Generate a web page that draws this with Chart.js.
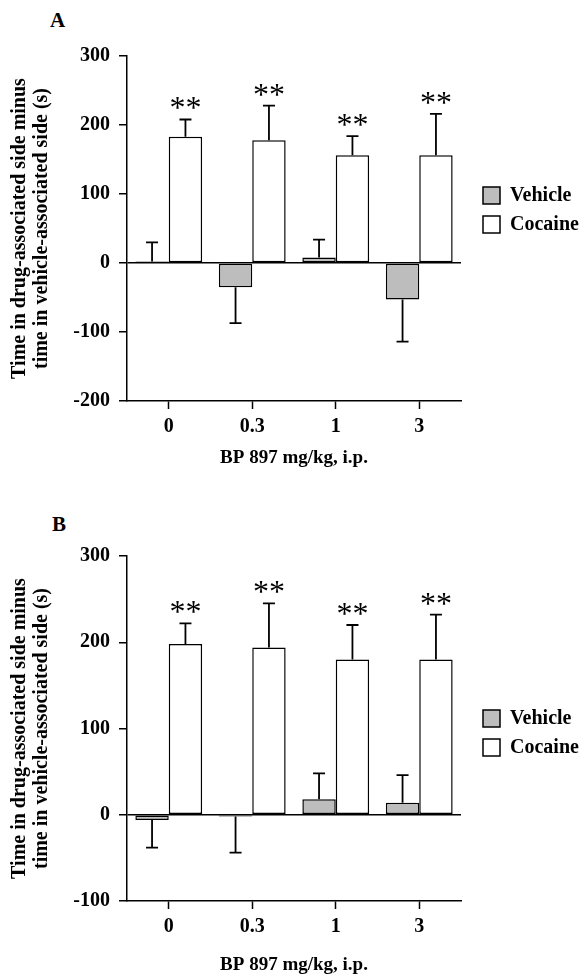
<!DOCTYPE html>
<html>
<head>
  <meta charset="UTF-8">
  <title>BP 897 place preference</title>
  <script src="https://cdn.jsdelivr.net/npm/chart.js"></script>
  <style>
    body { margin: 0; background: #fff; }
    #wrap { position: relative; width: 581px; height: 977px; }
    canvas { position: absolute; left: 0; }
    .panel { position: absolute; font: bold 21px "Liberation Serif", serif; color: #000; }
  </style>
</head>
<body>
<div id="wrap">
  <div class="panel" style="left:50px;top:8px">A</div>
  <canvas id="chartA" width="581" height="477" style="top:0px"></canvas>
  <div class="panel" style="left:52px;top:512px">B</div>
  <canvas id="chartB" width="581" height="477" style="top:500px"></canvas>
</div>

<script>
  // doses of BP 897 (mg/kg, i.p.)
  const doses = ['0', '0.3', '1', '3'];

  // panel A
  const vehicleA = [2, -35, 8, -53];
  const vehicleA_sem = [28, 52, 26, 61];
  const cocaineA = [183, 178, 156, 156];
  const cocaineA_sem = [25, 50, 28, 60];
  const starsA = ['**', '**', '**', '**'];

  // panel B
  const vehicleB = [-6, -2, 18, 14];
  const vehicleB_sem = [32, 42, 30, 32];
  const cocaineB = [198, 194, 180, 180];
  const cocaineB_sem = [24, 51, 40, 52];
  const starsB = ['**', '**', '**', '**'];

  const yTitle = ['Time in drug-associated side minus', 'time in vehicle-associated side (s)'];
  const xTitle = 'BP 897 mg/kg, i.p.';
  const seriesNames = ['Vehicle', 'Cocaine'];

  const serif = '"Liberation Serif", "Times New Roman", serif';

  // error bars, asterisks and the legend box
  const extras = {
    id: 'extras',
    afterDatasetsDraw(chart) {
      const ctx = chart.ctx;
      const y = chart.scales.y;
      const opt = chart.options.plugins.extras;
      ctx.save();
      ctx.strokeStyle = '#000';
      ctx.lineWidth = 1.8;
      chart.data.datasets.forEach(function (ds, i) {
        const meta = chart.getDatasetMeta(i);
        meta.data.forEach(function (bar, j) {
          const v = ds.data[j];
          const e = ds.sem[j];
          const end = v >= 0 ? v + e : v - e;
          const y0 = y.getPixelForValue(v);
          const y1 = y.getPixelForValue(end);
          ctx.beginPath();
          ctx.moveTo(bar.x, y0);
          ctx.lineTo(bar.x, y1);
          ctx.moveTo(bar.x - 6, y1);
          ctx.lineTo(bar.x + 6, y1);
          ctx.stroke();
          if (ds.stars && ds.stars[j]) {
            ctx.fillStyle = '#000';
            ctx.font = '32px ' + serif;
            ctx.textAlign = 'center';
            ctx.textBaseline = 'alphabetic';
            ctx.fillText(ds.stars[j], bar.x, y1 - 1);
          }
        });
      });

      // legend
      ctx.lineWidth = 1.5;
      ctx.font = 'bold 20px ' + serif;
      ctx.textAlign = 'left';
      ctx.textBaseline = 'middle';
      chart.data.datasets.forEach(function (ds, i) {
        const top = opt.legendY + i * 29;
        ctx.fillStyle = ds.backgroundColor;
        ctx.fillRect(opt.legendX, top, 17, 17);
        ctx.strokeRect(opt.legendX, top, 17, 17);
        ctx.fillStyle = '#000';
        ctx.fillText(ds.label, opt.legendX + 27, top + 9);
      });
      ctx.restore();
    }
  };

  function makeChart(id, veh, vehSem, coc, cocSem, stars, yMin, legendY, titlePad) {
    return new Chart(document.getElementById(id), {
      type: 'bar',
      data: {
        labels: doses,
        datasets: [{
          label: seriesNames[0],
          data: veh,
          sem: vehSem,
          backgroundColor: '#bdbdbd',
          borderColor: '#000',
          borderWidth: 1.5,
          borderSkipped: false,
          categoryPercentage: 0.8,
          barPercentage: 1.0
        }, {
          label: seriesNames[1],
          data: coc,
          sem: cocSem,
          stars: stars,
          backgroundColor: '#ffffff',
          borderColor: '#000',
          borderWidth: 1.5,
          borderSkipped: false,
          categoryPercentage: 0.8,
          barPercentage: 1.0
        }]
      },
      options: {
        responsive: false,
        animation: false,
        layout: { padding: { top: 56, right: 120, left: 0, bottom: 0 } },
        plugins: {
          legend: { display: false },
          tooltip: { enabled: false },
          extras: { legendX: 483, legendY: legendY }
        },
        scales: {
          x: {
            grid: { offset: false, drawOnChartArea: false, tickLength: 8, tickColor: '#000', tickWidth: 1.5 },
            border: { display: true, color: '#000', width: 1.5 },
            ticks: { color: '#000', padding: 6, font: { family: serif, weight: 'bold', size: 20 } },
            title: { display: true, text: xTitle, color: '#000', padding: { top: 0, bottom: titlePad },
                     font: { family: serif, weight: 'bold', size: 19 } },
            afterFit: function (s) { s.height = 76; }
          },
          y: {
            min: yMin,
            max: 300,
            ticks: { stepSize: 100, color: '#000', padding: 9, font: { family: serif, weight: 'bold', size: 20 } },
            grid: {
              color: function (c) { return c.tick && c.tick.value === 0 ? '#000' : 'rgba(0,0,0,0)'; },
              lineWidth: 1.5, tickLength: 8, tickColor: '#000', tickWidth: 1.5
            },
            border: { display: true, color: '#000', width: 1.5 },
            title: { display: true, text: yTitle, color: '#000', padding: { top: 9, bottom: 0 },
                     font: { family: serif, weight: 'bold', size: 20, lineHeight: 1.1 } },
            afterFit: function (s) { s.width = 127; }
          }
        }
      },
      plugins: [extras]
    });
  }

  makeChart('chartA', vehicleA, vehicleA_sem, cocaineA, cocaineA_sem, starsA, -200, 187, 8);
  makeChart('chartB', vehicleB, vehicleB_sem, cocaineB, cocaineB_sem, starsB, -100, 210, 1);
</script>
</body>
</html>
